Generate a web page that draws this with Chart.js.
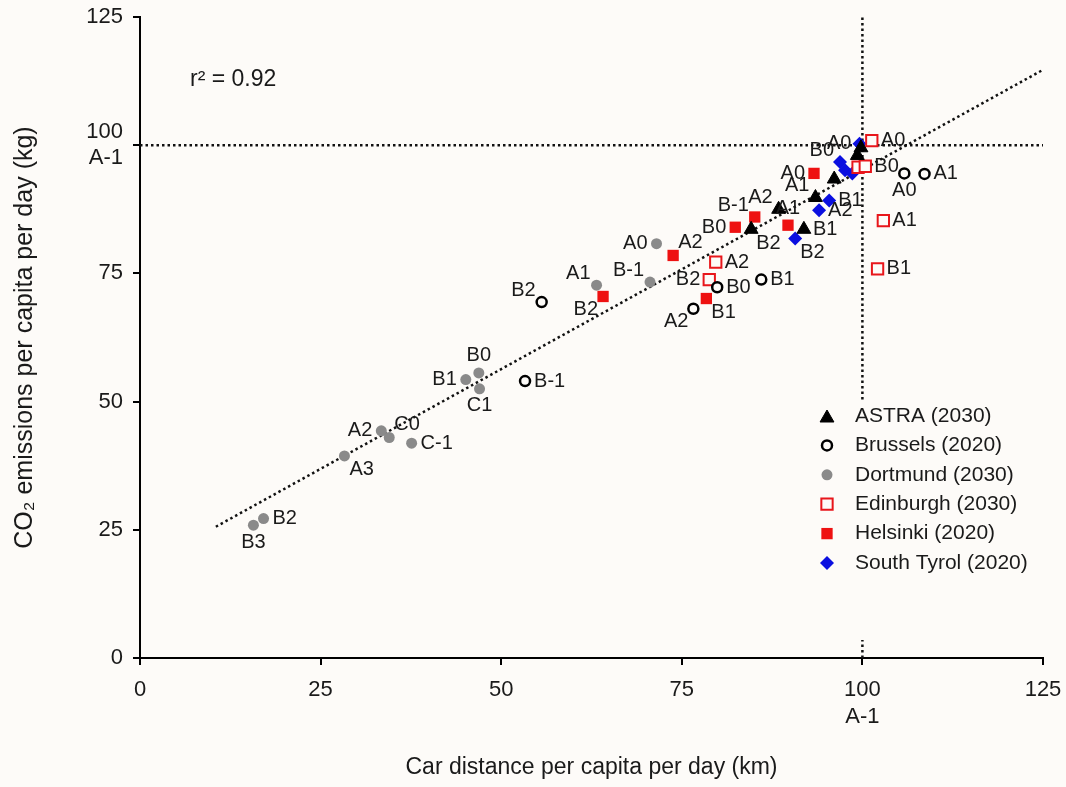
<!DOCTYPE html>
<html>
<head>
<meta charset="utf-8">
<script src="https://cdn.jsdelivr.net/npm/chart.js@4.4.1/dist/chart.umd.min.js"></script>
<style>
  html, body { margin: 0; padding: 0; background: #fdfbf8; }
  #wrap { width: 1066px; height: 787px; position: relative; }
</style>
</head>
<body>
<div id="wrap"><canvas id="chart"></canvas></div>
<script>
// scenario points: x = car km per capita per day, y = kg CO2 per capita per day
const astraX = [99.8, 99.3, 96.1, 93.5, 88.4, 91.9, 84.6];
const astraY = [99.5, 98.0, 93.4, 89.8, 87.5, 83.6, 83.6];
const astraLbl = ['', 'A0', '', 'A1', 'A2', 'B1', 'B2'];

const bruX = [105.8, 108.6, 79.9, 86.0, 76.6, 55.6, 53.3];
const bruY = [94.5, 94.4, 72.3, 73.8, 68.1, 69.4, 54.0];
const bruLbl = ['A0', 'A1', 'B0', 'B1', 'A2', 'B2', 'B-1'];

const dorX = [71.5, 70.6, 63.2, 46.9, 45.1, 47.0, 33.4, 34.5, 37.6, 28.3, 17.1, 15.7];
const dorY = [80.8, 73.3, 72.7, 55.6, 54.3, 52.5, 44.3, 43.0, 41.9, 39.4, 27.2, 25.9];
const dorLbl = ['A0', 'B-1', 'A1', 'B0', 'B1', 'C1', 'A2', 'C0', 'C-1', 'A3', 'B2', 'B3'];

const ediX = [101.3, 99.4, 100.4, 102.9, 102.1, 79.7, 78.8];
const ediY = [100.9, 95.7, 95.9, 85.3, 75.9, 77.2, 73.8];
const ediLbl = ['A0', '', 'B0', 'A1', 'B1', 'A2', 'B2'];

const helX = [93.3, 89.7, 85.1, 82.4, 73.8, 78.4, 64.1];
const helY = [94.5, 84.4, 86.0, 84.0, 78.5, 70.1, 70.5];
const helLbl = ['A0', 'A1', 'B-1', 'B0', 'A2', 'B1', 'B2'];

const styX = [99.6, 96.9, 97.6, 98.6, 95.4, 94.0, 90.7];
const styY = [100.3, 96.7, 95.1, 94.5, 89.2, 87.3, 81.8];
const styLbl = ['', 'B0', '', '', 'B1', 'A2', 'B2'];

// regression line and the A-1 reference lines
const fitX = [10.5, 125];
const fitY = [25.6, 114.7];
const refHX = [0, 125], refHY = [100, 100];
const refVX = [100, 100], refVY = [0, 125];

const tickVals = [0, 25, 50, 75, 100, 125];
const r2Text = 'r\u00B2 = 0.92';

// where each point's label sits (l, r, t, b, tl, tr, bl, br)
const astraPos = ['', 'tl', '', 'tl', 'tl', 'r', 'br'];
const bruPos = ['b', 'r', 'r', 'r', 'bl', 'tl', 'r'];
const dorPos = ['l', 'tl', 'tl', 't', 'l', 'b', 'l', 'tr', 'r', 'br', 'r', 'b'];
const ediPos = ['r', '', 'r', 'r', 'r', 'r', 'l'];
const helPos = ['l', 't', 'tl', 'l', 'tr', 'br', 'bl'];
const styPos = ['', 'tl', '', '', 'r', 'r', 'br'];

const BG = '#fdfbf8';
const FONT = "'Liberation Sans', Arial, Helvetica, sans-serif";
const TXT = '#1a1a1a';

const pts = (xs, ys) => xs.map((x, i) => ({ x, y: ys[i] }));

function group(label, xs, ys, lbls, pos, style, radius, fill, stroke, bw) {
  return {
    label, data: pts(xs, ys), labels: lbls, labelPos: pos,
    pointStyle: style, pointRadius: radius, pointHoverRadius: radius,
    pointBackgroundColor: fill, pointBorderColor: stroke, pointBorderWidth: bw,
    showLine: false
  };
}

function dotted(xs, ys, w) {
  return {
    label: '', legend: false, data: pts(xs, ys), showLine: true,
    borderColor: '#111', borderWidth: w, borderDash: [2.5, 3], pointRadius: 0, pointHoverRadius: 0,
    fill: false, tension: 0
  };
}

const OFF = {
  l: [-9, 0, 'right'], r: [9, 0, 'left'], t: [0, -17, 'center'], b: [0, 17, 'center'],
  tl: [-6, -12, 'right'], tr: [5, -13, 'left'], bl: [-5, 13, 'right'], br: [5, 14, 'left']
};

const pointLabels = {
  id: 'pointLabels',
  afterDatasetsDraw(chart) {
    const ctx = chart.ctx;
    ctx.save();
    ctx.font = '20px ' + FONT;
    ctx.fillStyle = TXT;
    ctx.textBaseline = 'middle';
    chart.data.datasets.forEach((ds, di) => {
      if (!ds.labels) return;
      const meta = chart.getDatasetMeta(di);
      meta.data.forEach((el, i) => {
        const txt = ds.labels[i], o = OFF[ds.labelPos[i]];
        if (!txt || !o) return;
        ctx.textAlign = o[2];
        ctx.fillText(txt, el.x + o[0], el.y + o[1]);
      });
    });
    ctx.font = '23px ' + FONT;
    ctx.textAlign = 'left';
    ctx.fillText(r2Text, chart.chartArea.left + 50, chart.chartArea.top + 63);
    ctx.restore();
  }
};

function marker(ctx, style, x, y, r, bw) {
  ctx.beginPath();
  if (style === 'triangle') {
    ctx.moveTo(x, y - r); ctx.lineTo(x + r * 0.866, y + r / 2); ctx.lineTo(x - r * 0.866, y + r / 2); ctx.closePath();
  } else if (style === 'rect') {
    const s = r / Math.SQRT2; ctx.rect(x - s, y - s, 2 * s, 2 * s);
  } else if (style === 'rectRot') {
    ctx.moveTo(x, y - r); ctx.lineTo(x + r, y); ctx.lineTo(x, y + r); ctx.lineTo(x - r, y); ctx.closePath();
  } else {
    ctx.arc(x, y, r, 0, Math.PI * 2);
  }
  ctx.fill();
  if (bw) ctx.stroke();
}

const legendBox = {
  id: 'legendBox',
  afterDatasetsDraw(chart) {
    const { ctx, chartArea } = chart;
    const x0 = chartArea.right - 238, y0 = chartArea.bottom - 258;
    ctx.save();
    ctx.fillStyle = BG;
    ctx.fillRect(x0, y0, 234, 240);
    ctx.font = '21px ' + FONT;
    ctx.textBaseline = 'middle';
    ctx.textAlign = 'left';
    let row = 0;
    chart.data.datasets.forEach(ds => {
      if (ds.legend === false) return;
      const y = y0 + 16 + row * 29.4, mx = chartArea.right - 216;
      ctx.fillStyle = ds.pointBackgroundColor;
      ctx.strokeStyle = ds.pointBorderColor;
      ctx.lineWidth = ds.pointBorderWidth;
      marker(ctx, ds.pointStyle, mx, y + (ds.pointStyle === 'triangle' ? 2 : 0), ds.pointRadius, ds.pointBorderWidth);
      ctx.fillStyle = TXT;
      ctx.fillText(ds.label, mx + 28, y);
      row++;
    });
    ctx.restore();
  }
};

const tickCb = v => (v === 100 ? ['100', 'A-1'] : String(v));

new Chart(document.getElementById('chart'), {
  type: 'scatter',
  data: {
    datasets: [
      group('ASTRA (2030)', astraX, astraY, astraLbl, astraPos, 'triangle', 8, '#000', '#000', 1),
      group('Brussels (2020)', bruX, bruY, bruLbl, bruPos, 'circle', 5, BG, '#000', 2.5),
      group('Dortmund (2030)', dorX, dorY, dorLbl, dorPos, 'circle', 5.5, '#8a8a8a', '#8a8a8a', 0),
      group('Edinburgh (2030)', ediX, ediY, ediLbl, ediPos, 'rect', 8, BG, '#e8161b', 2),
      group('Helsinki (2020)', helX, helY, helLbl, helPos, 'rect', 8, '#ee1111', '#ee1111', 0),
      group('South Tyrol (2020)', styX, styY, styLbl, styPos, 'rectRot', 7, '#0b0fe0', '#0b0fe0', 0),
      dotted(fitX, fitY, 2.5),
      dotted(refHX, refHY, 2.5),
      dotted(refVX, refVY, 2.5)
    ]
  },
  options: {
    responsive: true,
    maintainAspectRatio: false,
    animation: false,
    layout: { padding: { top: 17, right: 23, left: 0, bottom: 0 } },
    plugins: { legend: { display: false }, tooltip: { enabled: false } },
    scales: {
      x: {
        type: 'linear', min: 0, max: 125,
        afterBuildTicks: s => { s.ticks = tickVals.map(v => ({ value: v })); },
        afterFit: s => { s.height = 129; s.paddingLeft = 0; s.paddingRight = 0; },
        border: { display: true, color: '#000', width: 2 },
        grid: { drawOnChartArea: false, drawTicks: true, tickLength: 7, color: '#000', lineWidth: 2 },
        ticks: { callback: tickCb, color: TXT, padding: 12, font: { family: FONT, size: 22 }, maxRotation: 0 },
        title: { display: true, text: 'Car distance per capita per day (km)', color: TXT,
                 font: { family: FONT, size: 23 }, padding: { top: 0, bottom: 6 } }
      },
      y: {
        type: 'linear', min: 0, max: 125,
        afterBuildTicks: s => { s.ticks = tickVals.map(v => ({ value: v })); },
        afterFit: s => { s.width = 140; s.paddingTop = 0; s.paddingBottom = 0; },
        border: { display: true, color: '#000', width: 2 },
        grid: { drawOnChartArea: false, drawTicks: true, tickLength: 7, color: '#000', lineWidth: 2 },
        ticks: { callback: tickCb, color: TXT, padding: 10, font: { family: FONT, size: 22 } },
        title: { display: true, text: 'CO\u2082 emissions per capita per day (kg)', color: TXT,
                 font: { family: FONT, size: 25 }, padding: { top: 10, bottom: 0 } }
      }
    }
  },
  plugins: [pointLabels, legendBox]
});
</script>
</body>
</html>
